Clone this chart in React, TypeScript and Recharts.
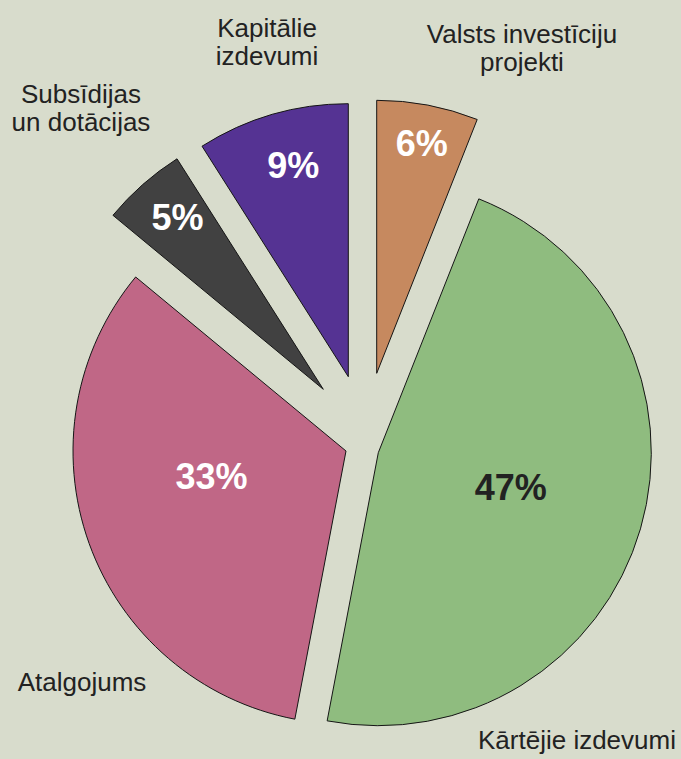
import { PieChart, Pie, Cell } from 'recharts';

// budžeta sadalījums, %
const categories = [
  'Valsts investīciju projekti',
  'Kārtējie izdevumi',
  'Atalgojums',
  'Subsīdijas un dotācijas',
  'Kapitālie izdevumi',
];
const nameLines = [
  ['Valsts investīciju', 'projekti'],
  ['Kārtējie izdevumi'],
  ['Atalgojums'],
  ['Subsīdijas', 'un dotācijas'],
  ['Kapitālie', 'izdevumi'],
];
const shares = [6, 47, 33, 5, 9];
const colors = ['#c6895f', '#8fbc7f', '#c06786', '#414141', '#553393'];
const pctColors = ['#ffffff', '#222222', '#ffffff', '#ffffff', '#ffffff'];

// izvirzīto sektoru virsotnes un uzrakstu novietojums
const apex = [
  { x: 376.7, y: 373.3 },
  { x: 378.3, y: 452.7 },
  { x: 346, y: 451 },
  { x: 323.3, y: 389.3 },
  { x: 348.3, y: 376.7 },
];
const pctRadius = [234, 137, 137, 225, 218];
const pctAngleShift = [-0.3, 1.5, -8.9, -1, -1.6];
const namePos = [
  { x: 522, y: 43 },
  { x: 577, y: 749 },
  { x: 82, y: 691 },
  { x: 81, y: 103 },
  { x: 267, y: 37 },
];

const BG = '#d8dccc';
const FONT = '"Liberation Sans", Arial, Helvetica, sans-serif';
const RADIAN = Math.PI / 180;

const data = categories.map((name, i) => ({ name, value: shares[i] }));

const makeLabel = (k: number) => (props: any) => {
  const { cx, cy, midAngle, index } = props;
  if (index !== k) return <g />;
  const ang = (midAngle + pctAngleShift[k]) * RADIAN;
  const x = cx + pctRadius[k] * Math.cos(-ang);
  const y = cy + pctRadius[k] * Math.sin(-ang);
  return (
    <g>
      <text
        x={x}
        y={y}
        textAnchor="middle"
        dominantBaseline="central"
        fill={pctColors[k]}
        fontFamily={FONT}
        fontWeight="bold"
        fontSize={36}
      >
        {`${shares[k]}%`}
      </text>
      <text x={namePos[k].x} y={namePos[k].y} textAnchor="middle" fill="#222" fontFamily={FONT} fontSize={26}>
        {nameLines[k].map((line, j) => (
          <tspan key={j} x={namePos[k].x} dy={j === 0 ? 0 : 28}>
            {line}
          </tspan>
        ))}
      </text>
    </g>
  );
};

export default function App() {
  return (
    <div style={{ position: 'fixed', left: 0, top: 0, width: 681, height: 759, background: BG }}>
      <PieChart width={681} height={759} margin={{ top: 0, right: 0, bottom: 0, left: 0 }}>
        {data.map((_, k) => (
          <Pie
            key={k}
            data={data}
            dataKey="value"
            nameKey="name"
            cx={apex[k].x}
            cy={apex[k].y}
            innerRadius={0}
            outerRadius={273}
            startAngle={90}
            endAngle={-270}
            stroke="none"
            label={makeLabel(k)}
            labelLine={false}
            isAnimationActive={false}
          >
            {data.map((_, i) => (
              <Cell
                key={i}
                fill={i === k ? colors[i] : 'none'}
                stroke={i === k ? '#151515' : 'none'}
                strokeWidth={1}
              />
            ))}
          </Pie>
        ))}
      </PieChart>
    </div>
  );
}
